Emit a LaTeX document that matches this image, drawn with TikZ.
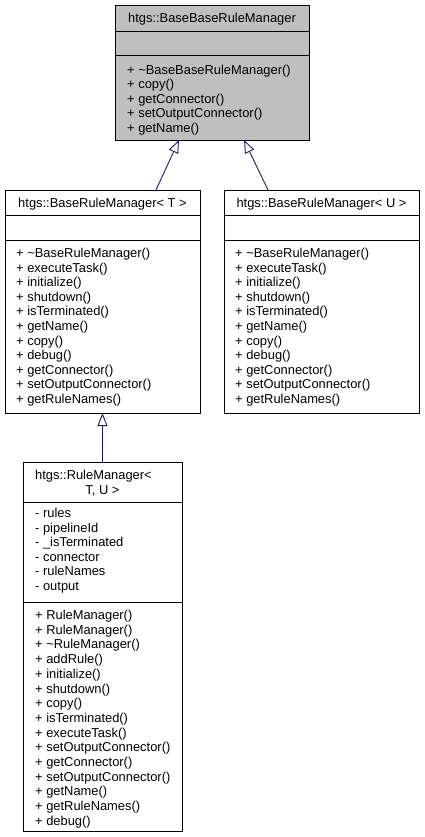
\documentclass[tikz,border=0pt]{standalone}
\usepackage{fontspec}
\setmainfont{Liberation Sans}
\usetikzlibrary{arrows.meta}
\definecolor{edgeblue}{HTML}{191970}
\definecolor{hlgray}{HTML}{BFBFBF}
\newcommand{\mfont}{\fontsize{12.9}{14.6}\selectfont}
\tikzset{
  classbox/.style={draw=black, line width=0.9pt, anchor=north west, inner sep=0pt, outer sep=0pt, fill=white},
  mline/.style={anchor=base west, inner sep=0pt, font=\mfont},
  tline/.style={anchor=base, inner sep=0pt, font=\mfont},
  divider/.style={draw=black, line width=0.9pt},
  inherit/.style={draw=edgeblue, line width=0.9pt, -{Triangle[open, length=13pt, width=10pt, fill=white]}}
}
\begin{document}
\begin{tikzpicture}[x=1pt,y=-1pt]
\useasboundingbox (0,0) rectangle (425,837);

% Box A: htgs::BaseBaseRuleManager
\node[classbox, fill=hlgray, minimum width=194pt, minimum height=135pt] (A) at (115,5) {};
\draw[divider] ([yshift=-26pt]A.north west) -- ([yshift=-26pt]A.north east);
\draw[divider] ([yshift=-50pt]A.north west) -- ([yshift=-50pt]A.north east);
\node[tline] (At) at (212,22.8) {htgs::BaseBaseRuleManager};
\foreach \t [count=\i from 0] in {+ \textasciitilde BaseBaseRuleManager(), + copy(), + getConnector(), + setOutputConnector(), + getName()}
  \node[mline] (Am\i) at (127,74.5+14.4*\i) {\t};

% Box B: htgs::BaseRuleManager< T >
\node[classbox, minimum width=195pt, minimum height=223pt] (B) at (5,190) {};
\draw[divider] ([yshift=-25pt]B.north west) -- ([yshift=-25pt]B.north east);
\draw[divider] ([yshift=-50pt]B.north west) -- ([yshift=-50pt]B.north east);
\node[tline] (Bt) at (102.5,207.5) {htgs::BaseRuleManager< T >};
\foreach \t [count=\i from 0] in {+ \textasciitilde BaseRuleManager(), + executeTask(), + initialize(), + shutdown(), + isTerminated(), + getName(), + copy(), + debug(), + getConnector(), + setOutputConnector(), + getRuleNames()}
  \node[mline] (Bm\i) at (16,257.5+14.6*\i) {\t};

% Box C: htgs::BaseRuleManager< U >
\node[classbox, minimum width=195pt, minimum height=223pt] (C) at (224,190) {};
\draw[divider] ([yshift=-25pt]C.north west) -- ([yshift=-25pt]C.north east);
\draw[divider] ([yshift=-50pt]C.north west) -- ([yshift=-50pt]C.north east);
\node[tline] (Ct) at (321.5,207.5) {htgs::BaseRuleManager< U >};
\foreach \t [count=\i from 0] in {+ \textasciitilde BaseRuleManager(), + executeTask(), + initialize(), + shutdown(), + isTerminated(), + getName(), + copy(), + debug(), + getConnector(), + setOutputConnector(), + getRuleNames()}
  \node[mline] (Cm\i) at (235,257.5+14.6*\i) {\t};

% Box D: htgs::RuleManager< T, U >
\node[classbox, minimum width=159pt, minimum height=369pt] (D) at (23,462) {};
\draw[divider] ([yshift=-40pt]D.north west) -- ([yshift=-40pt]D.north east);
\draw[divider] ([yshift=-140pt]D.north west) -- ([yshift=-140pt]D.north east);
\node[mline] (Dt1) at (35,479.5) {htgs::RuleManager<};
\node[tline] (Dt2) at (102.5,494.5) {T, U >};
\foreach \t [count=\i from 0] in {- rules, - pipelineId, - \_isTerminated, - connector, - ruleNames, - output}
  \node[mline] (Da\i) at (35,517.5+14.6*\i) {\t};
\foreach \t [count=\i from 0] in {+ RuleManager(), + RuleManager(), + \textasciitilde RuleManager(), + addRule(), + initialize(), + shutdown(), + copy(), + isTerminated(), + executeTask(), + setOutputConnector(), + getConnector(), + setOutputConnector(), + getName(), + getRuleNames(), + debug()}
  \node[mline] (Dm\i) at (35,619.5+14.7*\i) {\t};

% Inheritance connectors
\draw[inherit] ([xshift=53.5pt]B.north) -- ([xshift=-33pt]A.south);
\draw[inherit] ([xshift=-53.5pt]C.north) -- ([xshift=32pt]A.south);
\draw[inherit] (D.north) -- (B.south);
\end{tikzpicture}
\end{document}
